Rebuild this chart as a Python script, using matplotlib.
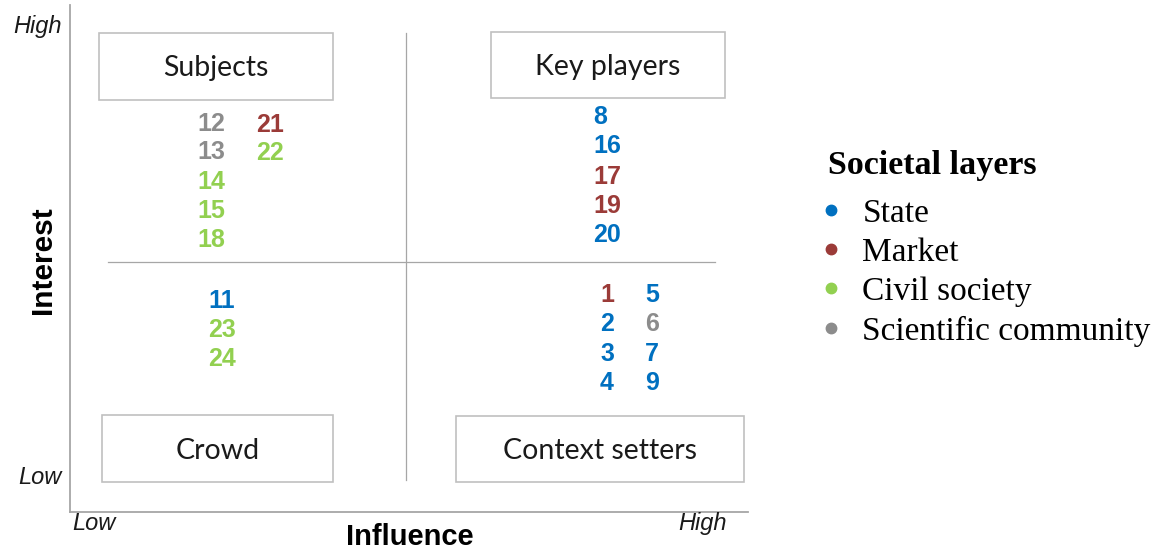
import matplotlib
matplotlib.use("Agg")
import matplotlib.pyplot as plt
from matplotlib.lines import Line2D
from matplotlib.patches import Rectangle

# stakeholder numbers, position on the grid (influence, interest) and societal layer
ids = ['1', '2', '3', '4', '5', '6', '7', '8', '9', '11', '12', '13',
       '14', '15', '16', '17', '18', '19', '20', '21', '22', '23', '24']
influence = [7.92, 7.92, 7.92, 7.92, 8.58, 8.58, 8.58, 7.82, 8.58, 2.24, 2.08, 2.08,
             2.08, 2.08, 7.92, 7.92, 2.08, 7.92, 7.92, 2.95, 2.95, 2.24, 2.24]
interest = [4.28, 3.71, 3.12, 2.54, 4.28, 3.71, 3.12, 7.79, 2.54, 4.16, 7.65, 7.10,
            6.51, 5.94, 7.22, 6.61, 5.36, 6.04, 5.46, 7.63, 7.08, 3.59, 3.02]
layer = ['Market', 'State', 'State', 'State', 'State', 'Scientific community', 'State',
         'State', 'State', 'State', 'Scientific community', 'Scientific community',
         'Civil society', 'Civil society', 'State', 'Market', 'Civil society', 'Market',
         'State', 'Market', 'Civil society', 'Civil society', 'Civil society']

layers = ['State', 'Market', 'Civil society', 'Scientific community']
layer_colors = {'State': '#0070C0', 'Market': '#9B3B38',
                'Civil society': '#92D050', 'Scientific community': '#8C8C8C'}

quadrants = ['Subjects', 'Key players', 'Crowd', 'Context setters']

fig = plt.figure(figsize=(11.61, 5.5), dpi=100)
ax = fig.add_axes([0.0603, 0.0691, 0.584, 0.9218])
ax.set_xlim(0, 10)
ax.set_ylim(0, 10)
ax.set_xticks([])
ax.set_yticks([])
for s in ['top', 'right']:
    ax.spines[s].set_visible(False)
for s in ['left', 'bottom']:
    ax.spines[s].set_color('#a6a6a6')
    ax.spines[s].set_linewidth(1.3)

# quadrant dividers
ax.axvline(4.956, ymin=0.063, ymax=0.945, color='#a6a6a6', lw=0.9)
ax.axhline(4.93, xmin=0.056, xmax=0.951, color='#a6a6a6', lw=0.9)

# quadrant boxes (axes fraction: x0, y0, w, h)
boxes = [(0.043, 0.813, 0.345, 0.132), (0.621, 0.817, 0.345, 0.130),
         (0.047, 0.059, 0.341, 0.132), (0.569, 0.059, 0.425, 0.130)]
for name, (bx, by, bw, bh) in zip(quadrants, boxes):
    ax.add_patch(Rectangle((bx, by), bw, bh, transform=ax.transAxes, fill=False,
                           edgecolor='#c0c0c0', lw=1.2))
    ax.text(bx + bw / 2, by + bh / 2 - 0.004, name, transform=ax.transAxes, ha='center',
            va='center', fontsize=20.5, family='Lato', color='#1a1a1a')

# stakeholder numbers
for i in range(len(ids)):
    ax.text(influence[i], interest[i], ids[i], ha='center', va='center',
            fontsize=18, fontweight='bold', family='Liberation Sans',
            color=layer_colors[layer[i]])

# axis labels and ends
ax.text(-0.012, 0.957, 'High', transform=ax.transAxes, ha='right', va='center',
        fontsize=17, style='italic', family='Liberation Sans', color='#1a1a1a')
ax.text(-0.012, 0.069, 'Low', transform=ax.transAxes, ha='right', va='center',
        fontsize=17, style='italic', family='Liberation Sans', color='#1a1a1a')
ax.text(0.004, -0.022, 'Low', transform=ax.transAxes, ha='left', va='center',
        fontsize=17, style='italic', family='Liberation Sans', color='#1a1a1a')
ax.text(0.968, -0.022, 'High', transform=ax.transAxes, ha='right', va='center',
        fontsize=17, style='italic', family='Liberation Sans', color='#1a1a1a')
ax.text(0.501, -0.049, 'Influence', transform=ax.transAxes, ha='center', va='center',
        fontsize=21, fontweight='bold', family='Liberation Sans')
ax.text(-0.040, 0.497, 'Interest', transform=ax.transAxes, ha='center', va='center',
        rotation=90, fontsize=21.5, fontweight='bold', family='Liberation Sans')

# legend
fig.text(828 / 1161, 1 - 166 / 550, 'Societal layers', ha='left', va='center',
         family='Liberation Serif', fontsize=24.5, fontweight='bold')
handles = [Line2D([], [], ls='none', marker='o', markersize=7.5,
                  color=layer_colors[l]) for l in layers]
leg = fig.legend(handles, layers, loc='upper left', bbox_to_anchor=(824 / 1161, 1 - 198 / 550),
                 frameon=False, borderpad=0, borderaxespad=0, handlelength=0.4,
                 handletextpad=0.75, labelspacing=0.26,
                 prop={'family': 'Liberation Serif', 'size': 24})

fig.savefig('out.png', dpi=100)
